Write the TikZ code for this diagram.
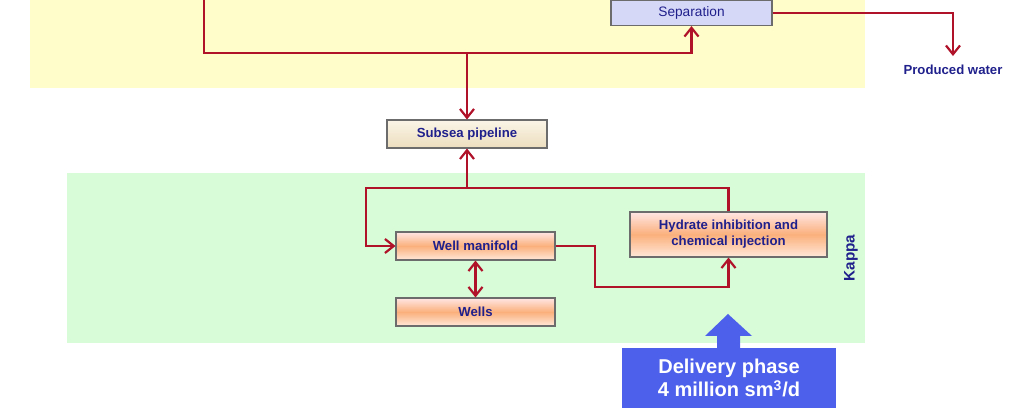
\documentclass[tikz,border=0pt]{standalone}
\usepackage{fontspec}
\setmainfont{Liberation Sans}
\usetikzlibrary{arrows.meta}
\definecolor{flowred}{RGB}{176,18,42}
\definecolor{navytext}{RGB}{32,32,140}
\definecolor{topyellow}{RGB}{255,253,201}
\definecolor{kappagreen}{RGB}{216,252,216}
\definecolor{seplilac}{RGB}{214,216,248}
\definecolor{deliverblue}{RGB}{76,96,236}
\definecolor{creamtop}{RGB}{251,245,232}
\definecolor{creambottom}{RGB}{236,222,190}
\definecolor{peachtop}{RGB}{255,230,228}
\definecolor{peachmid}{RGB}{251,176,124}
\definecolor{peachbottom}{RGB}{255,232,218}
\tikzset{
  box/.style={draw=gray!85!black, line width=0.6pt, text=navytext, inner sep=0pt, align=center,
    font=\fontsize{7.5}{9.2}\selectfont\bfseries},
  orangebox/.style={box, top color=peachtop, bottom color=peachbottom, middle color=peachmid},
  creambox/.style={box, top color=creamtop, bottom color=creambottom},
  flow/.style={draw=flowred, line width=1.25pt, -{Straight Barb[length=5pt,width=8pt]}},
  twoway/.style={flow, {Straight Barb[length=5pt,width=8pt]}-{Straight Barb[length=5pt,width=8pt]}}
}
\begin{document}
\begin{tikzpicture}[x=0.02cm,y=-0.02cm]
  \useasboundingbox (0,0) rectangle (1019,411);
  \clip (0,0) rectangle (1019,411);
  % areas
  \fill[topyellow] (30,-5) rectangle (865,88);
  \fill[kappagreen] (67,173) rectangle (865,343);
  % boxes
  \node[box, fill=seplilac, font=\fontsize{7.8}{9}\selectfont, minimum width=3.22cm, minimum height=0.5cm] (sep) at (691.5,13) {Separation};
  \node[creambox, minimum width=3.2cm, minimum height=0.56cm] (pipe) at (467,134) {Subsea pipeline};
  \node[orangebox, minimum width=3.18cm, minimum height=0.56cm] (man) at (475.5,246) {Well manifold};
  \node[orangebox, minimum width=3.18cm, minimum height=0.56cm] (wells) at (475.5,312) {Wells};
  \node[orangebox, minimum width=3.94cm, minimum height=0.9cm] (hyd) at (728.5,234.5) {Hydrate inhibition and\\chemical injection};
  \node[text=navytext, inner sep=0pt, font=\fontsize{7.5}{9}\selectfont\bfseries] (water) at (953,70) {Produced water};
  \node[text=navytext, rotate=90, inner sep=0pt, font=\fontsize{8.7}{10}\selectfont\bfseries] (kappa) at (851,258) {Kappa};
  % delivery
  \fill[deliverblue] (717,349) -- (717,336) -- (705,336) -- (728,314) -- (752,336) -- (740,336) -- (740,349) -- cycle;
  \node[fill=deliverblue, text=white, align=center, inner sep=0pt, minimum width=4.3cm, minimum height=1.22cm,
    font=\fontsize{11.4}{13.6}\selectfont\bfseries] (phase) at (729,378) {Delivery phase\\4 million sm\textsuperscript{3}/d};
  % flows
  \coordinate (top) at (204,-5);
  \coordinate (split) at (467,53);
  \coordinate (loop) at (366,188);
  \coordinate (join) at (467,188);
  \coordinate (bend) at (595,287);
  \draw[flow] (top) |- (split) -| (sep.south);
  \draw[flow] (split) -- (pipe.north);
  \draw[flow] (sep.east) -| ([yshift=5pt]water.north);
  \draw[flow] (hyd.north) |- (loop) |- (man.west);
  \draw[flow] (join) -- (pipe.south);
  \draw[flow] (man.east) -| (bend) -| (hyd.south);
  \draw[twoway] (man.south) -- (wells.north);
\end{tikzpicture}
\end{document}
